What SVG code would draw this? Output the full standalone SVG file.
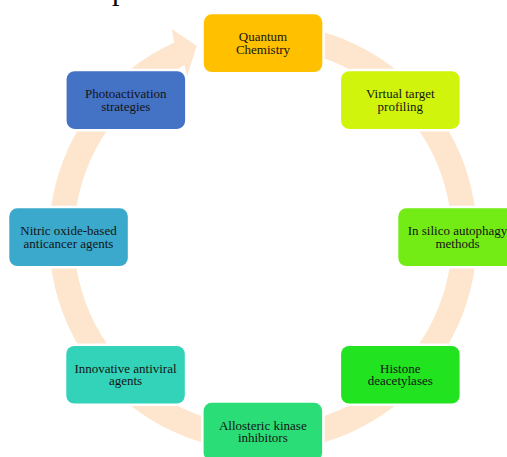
<svg xmlns="http://www.w3.org/2000/svg" width="507" height="457" viewBox="0 0 507 457">
  <style>
    .box { stroke: #ffffff; stroke-width: 5; paint-order: stroke; }
    .lbl { font-family: "Liberation Serif", "Times New Roman", serif; font-size: 13px; fill: #141414; text-anchor: middle; }
    .ring { fill: #FDE6CD; }
  </style>
  <rect width="507" height="457" fill="#ffffff"/>
  <text x="112" y="-0.5" font-family="Liberation Serif, serif" font-size="30" fill="#000">patents</text>
  <g id="connectors">
    <path class="ring" d="M 281.65 24.12 A 214 214 0 1 1 174.26 42.57 L 171.7 29 L 196.7 45.7 L 187 76.7 L 184.62 65.32 A 189 189 0 1 0 279.47 49.02 Z"/>
  </g>
  <g id="n1">
    <rect class="box" x="203.8" y="14.3" width="118.5" height="57.7" rx="8" fill="#FFC000"/>
    <text class="lbl" x="263" y="41">Quantum<tspan x="263" dy="12.7">Chemistry</tspan></text>
  </g>
  <g id="n2">
    <rect class="box" x="341.1" y="71.2" width="118.5" height="57.7" rx="8" fill="#D0F40B"/>
    <text class="lbl" x="400.3" y="98">Virtual target<tspan x="400.3" dy="12.7">profiling</tspan></text>
  </g>
  <g id="n3">
    <rect class="box" x="398.3" y="208.3" width="118.5" height="57.7" rx="8" fill="#73EC15"/>
    <text class="lbl" x="457.5" y="235.2">In silico autophagy<tspan x="457.5" dy="12.7">methods</tspan></text>
  </g>
  <g id="n4">
    <rect class="box" x="341.1" y="345.9" width="118.5" height="57.7" rx="8" fill="#21E320"/>
    <text class="lbl" x="400.3" y="372.7">Histone<tspan x="400.3" dy="12.7">deacetylases</tspan></text>
  </g>
  <g id="n5">
    <rect class="box" x="203.6" y="402.8" width="118.5" height="57.7" rx="8" fill="#2ADD77"/>
    <text class="lbl" x="262.8" y="429.6">Allosteric kinase<tspan x="262.8" dy="12.7">inhibitors</tspan></text>
  </g>
  <g id="n6">
    <rect class="box" x="66.3" y="345.9" width="118.5" height="57.7" rx="8" fill="#32D3B9"/>
    <text class="lbl" x="125.5" y="372.7">Innovative antiviral<tspan x="125.5" dy="12.7">agents</tspan></text>
  </g>
  <g id="n7">
    <rect class="box" x="9.3" y="208.3" width="118.5" height="57.7" rx="8" fill="#3AA9CB"/>
    <text class="lbl" x="68.5" y="235.2">Nitric oxide-based<tspan x="68.5" dy="12.7">anticancer agents</tspan></text>
  </g>
  <g id="n8">
    <rect class="box" x="66.6" y="71.2" width="118.5" height="57.7" rx="8" fill="#4472C4"/>
    <text class="lbl" x="125.8" y="98">Photoactivation<tspan x="125.8" dy="12.7">strategies</tspan></text>
  </g>
</svg>
